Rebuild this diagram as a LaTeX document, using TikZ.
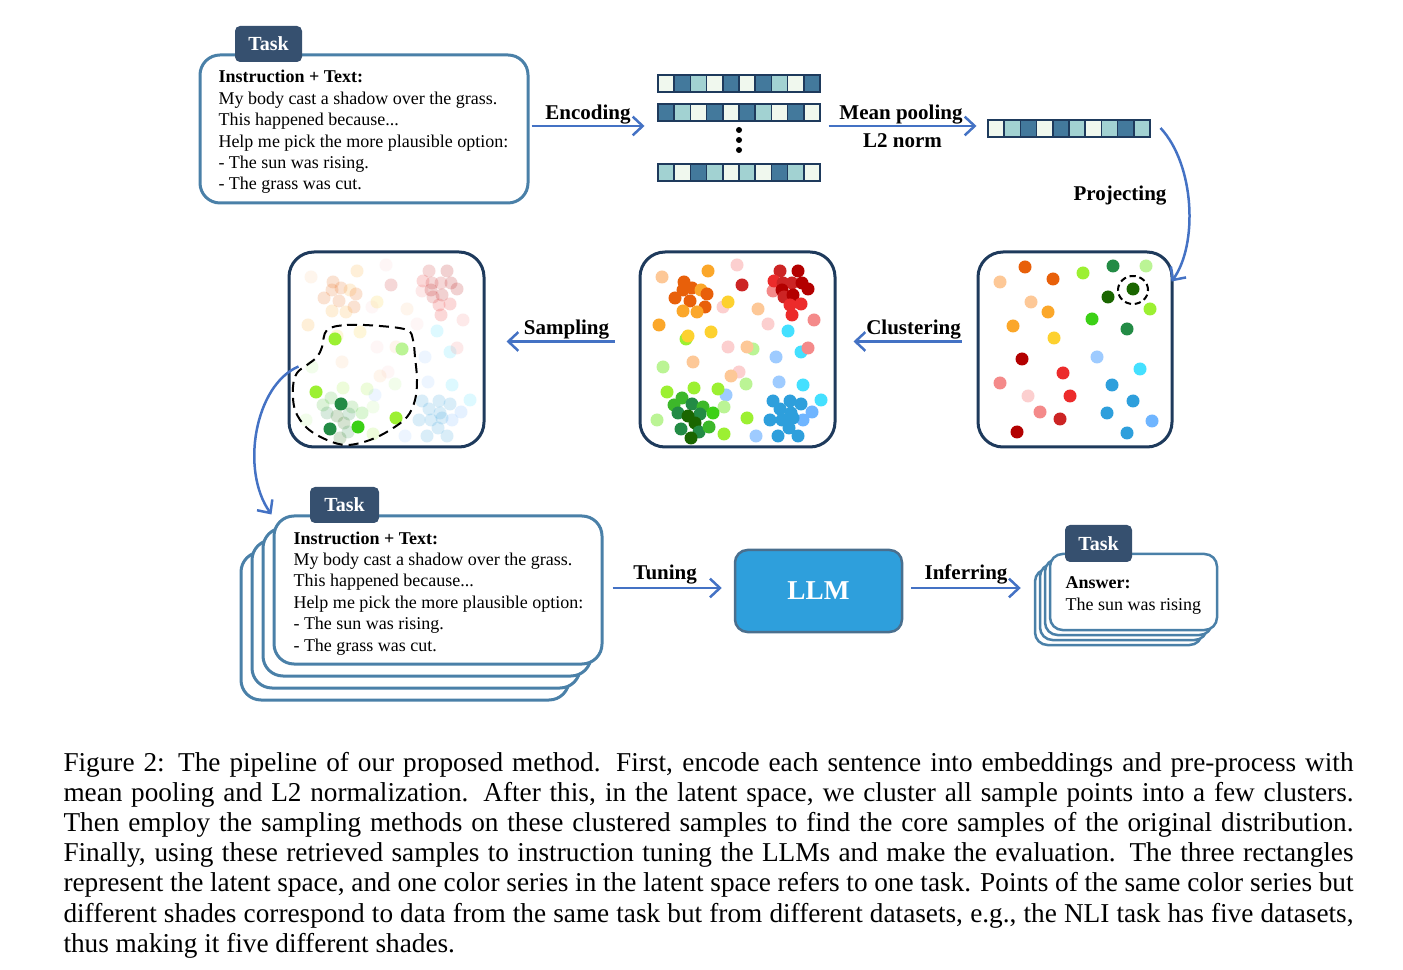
\documentclass[tikz,border=0pt]{standalone}
\usepackage{fontspec}
\setmainfont{Liberation Serif}
\usetikzlibrary{calc,arrows.meta}
% one pixel of the layout
\newdimen\pxu \pxu=0.4pt
\definecolor{taskline}{HTML}{4A80A8}
\definecolor{tabblue}{HTML}{36506F}
\definecolor{latline}{HTML}{1E3A5C}
\definecolor{arrowblue}{HTML}{4472C4}
\definecolor{llmfill}{HTML}{2E9FDC}
\definecolor{llmline}{HTML}{4A6F8E}
\definecolor{embD}{HTML}{43799C}
\definecolor{embT}{HTML}{A2D2D2}
\definecolor{embW}{HTML}{F0F8EE}
% colours of the sample points
\definecolor{dpeach}{HTML}{FDC897}
\definecolor{dorD}{HTML}{E8600A}
\definecolor{dorL}{HTML}{FBA72A}
\definecolor{dyel}{HTML}{FDD12F}
\definecolor{dpinkL}{HTML}{FCCFCF}
\definecolor{dsalm}{HTML}{F48A8A}
\definecolor{dredD}{HTML}{B30000}
\definecolor{dredM}{HTML}{CC2424}
\definecolor{dredB}{HTML}{EC2B2B}
\definecolor{dgrL}{HTML}{BBF495}
\definecolor{dlime}{HTML}{9CF032}
\definecolor{dgrB}{HTML}{3CD016}
\definecolor{dgrM}{HTML}{3DB82A}
\definecolor{dgrC}{HTML}{238B45}
\definecolor{dgrD}{HTML}{1A6600}
\definecolor{dblL}{HTML}{9ECBFF}
\definecolor{dcyan}{HTML}{44E0FF}
\definecolor{dblu}{HTML}{2E9FDC}
\definecolor{dblM}{HTML}{6FB5FF}
\tikzset{
% boxes holding a task, their tabs and the latent spaces
task box/.style={draw=taskline,line width=1.2pt,rounded corners=8pt,fill=white,inner sep=0},
answer box/.style={draw=taskline,line width=1pt,rounded corners=5pt,fill=white,inner sep=0},
task tab/.style={fill=tabblue,rounded corners=2pt,text=white,inner sep=0,
  font=\fontsize{8}{9.6}\selectfont\bfseries},
latent box/.style={draw=latline,line width=1.2pt,rounded corners=10pt,fill=white,inner sep=0},
llm box/.style={draw=llmline,line width=1pt,rounded corners=5pt,fill=llmfill,inner sep=0,
  text=white,font=\fontsize{10.9}{13}\selectfont\bfseries},
box text/.style={inner sep=0,font=\fontsize{7.2}{8.56}\selectfont},
arrow text/.style={inner sep=0,font=\fontsize{8.4}{10}\selectfont\bfseries},
flow/.style={draw=arrowblue,line width=1pt,-{Straight Barb[length=4pt,width=7.5pt]}},
emb cell/.style={draw=latline,line width=0.7pt},
sel line/.style={draw=black,line width=0.8pt,dash pattern=on 4pt off 2.4pt}
}
% one embedding row: x, y, list of cell colours
\newcommand{\embrow}[3]{%
  \foreach \c [count=\i from 0] in {#3}
    \draw[emb cell,fill=\c] ({#1+16.2*\i},#2) rectangle ++(16.2,17);}
% points of the clustered latent space
\newcommand{\latentdots}{%
  \foreach \x/\y/\c in {662/277/dpeach,708/271/dorL,737/265/dpinkL,742/285/dredM,
    723/307/dpinkL,728/302/dyel,758/309/dpeach,659/325/dorL,686/339/dlime,688/336/dyel,
    711/332/dyel,814/320/dsalm,768/324/dpinkL,788/331/dcyan,728/347/dpinkL,753/349/dgrL,
    747/347/dpeach,776/357/dblL,801/352/dcyan,808/348/dsalm,663/367/dgrL,693/362/dpeach,
    739/372/dpinkL,731/376/dpeach,746/384/dgrL,779/382/dblL,803/385/dcyan,667/392/dlime,
    694/388/dlime,726/395/dblL,718/389/dlime,821/400/dcyan,724/407/dgrL,657/420/dgrL,
    747/418/dlime,724/434/dlime,756/436/dblL,
    % orange cluster
    684/282/dorD,675/298/dorD,683/290/dorD,692/288/dorD,690/301/dorD,701/290/dorL,
    707/294/dorD,705/307/dorD,683/311/dorL,697/312/dorL,
    % red cluster
    773/291/dsalm,780/271/dredM,798/271/dredD,774/281/dredB,783/283/dredM,792/283/dredM,
    802/283/dredD,808/289/dredD,782/290/dredD,784/297/dredM,793/295/dredD,790/305/dredB,
    801/304/dredB,792/315/dredB,
    % green cluster
    674/405/dgrM,682/398/dgrM,692/404/dgrC,703/407/dgrM,678/413/dgrC,700/414/dgrC,
    713/413/dgrB,688/416/dgrD,695/423/dgrD,681/429/dgrC,699/432/dgrC,709/427/dgrM,
    691/438/dgrD,
    % blue cluster
    773/401/dblu,790/401/dblu,801/404/dblu,780/409/dblu,791/413/dblu,812/412/dblM,
    770/420/dblu,782/420/dblu,803/420/dblM,793/418/dblu,789/428/dblu,778/436/dblu,
    798/436/dblu}
    \fill[\c] (\x,\y) circle[radius=2.6pt];}

\begin{document}
\begin{tikzpicture}[x=\pxu,y=-\pxu]
      \useasboundingbox (0,0) rectangle (1403,970);
      % Task at the top
      \node(task1)[task box,minimum width=328\pxu,minimum height=148\pxu] at (364,129){};
      \node(tab1)[task tab,minimum width=67\pxu,minimum height=36\pxu] at (268.5,44){Task};
      \node(text1)[box text,anchor=base west] at (218,83){\parbox[t]{300\pxu}{%
          \textbf{Instruction + Text:}\\
          My body cast a shadow over the grass.\\
          This happened because...\\
          Help me pick the more plausible option:\\
          - The sun was rising.\\
          - The grass was cut.}};
      % Embeddings and the pooled vector
      \node(emb)[inner sep=0,minimum width=162\pxu,minimum height=106\pxu] at (739,128){};
      \node(pool)[inner sep=0,minimum width=162\pxu,minimum height=17\pxu] at (1069,128){};
      \embrow{658}{75}{embW,embD,embT,embW,embD,embW,embD,embT,embW,embD}
      \embrow{658}{104}{embD,embT,embW,embD,embW,embD,embT,embW,embD,embW}
      \embrow{658}{164}{embT,embW,embD,embT,embW,embT,embW,embD,embT,embW}
      \embrow{988}{120}{embW,embT,embD,embW,embD,embT,embW,embT,embD,embT}
      \foreach \y in {130,140,150} \fill (739,\y) circle[radius=1.2pt];
      \draw[flow] ($(task1.east)+(2,-3)$) -- ($(emb.west)+(-13,-2)$)
        node(lbl enc)[arrow text,midway,above=0.4pt]{Encoding};
      \draw[flow] ($(emb.east)+(8,-2)$) -- ($(pool.west)+(-11,-2)$)
        node(lbl mean)[arrow text,midway,above=0.4pt,xshift=-0.6pt]{Mean pooling}
        node(lbl norm)[arrow text,midway,below=2.4pt]{L2 norm};
      % The three latent spaces
      \node(latR)[latent box,minimum width=194\pxu,minimum height=195\pxu] at (1075,349.5){};
      \node(latM)[latent box,minimum width=195\pxu,minimum height=195\pxu] at (737.5,349.5){};
      \node(latL)[latent box,minimum width=195\pxu,minimum height=195\pxu] at (386.5,349.5){};
      \draw[flow] ($(pool.east)+(10,0)$) .. controls (1195,165) and (1198,245) ..
        ($(latR.north east)+(-2,31)$);
      \node(lbl proj)[arrow text] at (1120,196){Projecting};
      % projected points
      \foreach \x/\y/\c in {1000/282/dpeach,1025/267/dorD,1053/279/dorD,1083/273/dlime,
          1113/266/dgrC,1146/266/dgrL,1108/297/dgrD,1133/289/dgrD,1150/309/dlime,
          1031/302/dpeach,1048/312/dorL,1013/326/dorL,1092/319/dgrB,1127/329/dgrC,
          1054/338/dyel,1022/359/dredD,1097/357/dblL,1140/369/dcyan,1063/373/dredB,
          1000/383/dsalm,1112/385/dblu,1028/396/dpinkL,1070/396/dredB,1133/401/dblu,
          1040/412/dsalm,1060/419/dredM,1107/413/dblu,1152/421/dblM,1017/432/dredD,
          1127/433/dblu}
        \fill[\c] (\x,\y) circle[radius=2.6pt];
      \draw[sel line,dash pattern=on 2.5pt off 1.5pt] (1133,290) ellipse[x radius=6pt,y radius=5.6pt];
      % clustered points
      \latentdots
      % sampled points
      \begin{scope}[shift={(-351,0)}]
        \begin{scope}[fill opacity=0.18]
          \latentdots
        \end{scope}
        \foreach \x/\y/\c in {686/339/dlime,753/349/dgrL,667/392/dlime,692/404/dgrC,
            681/429/dgrC,709/427/dgrB,747/418/dlime}
          \fill[\c] (\x,\y) circle[radius=2.6pt];
      \end{scope}
      \draw[sel line] plot[smooth cycle,tension=0.6] coordinates {(327,330) (347,325)
        (380,326) (407,330) (413,340) (415,357) (417,380) (415,400) (407,417) (390,430)
        (370,440) (347,445) (327,440) (307,428) (295,410) (293,387) (297,373) (307,365)
        (317,357) (322,347)};
      \draw[flow] ($(latR.west)+(-15,-8)$) -- ($(latM.east)+(17,-8)$)
        node(lbl clu)[arrow text,midway,above=0.4pt,xshift=2.4pt]{Clustering};
      \draw[flow] ($(latM.west)+(-24,-8)$) -- ($(latL.east)+(21,-8)$)
        node(lbl sam)[arrow text,midway,above=0.4pt,xshift=2.4pt]{Sampling};
      % Sampled tasks
      \foreach \k in {3,2,1}
        \node(back\k)[task box,minimum width=328\pxu,minimum height=148\pxu]
          at ({438-11*\k},{590+12*\k}){};
      \node(task2)[task box,minimum width=328\pxu,minimum height=148\pxu] at (438,590){};
      \node(tab2)[task tab,minimum width=69\pxu,minimum height=36\pxu] at (344.5,505){Task};
      \node(text2)[box text,anchor=base west] at (293,544){\parbox[t]{300\pxu}{%
          \textbf{Instruction + Text:}\\
          My body cast a shadow over the grass.\\
          This happened because...\\
          Help me pick the more plausible option:\\
          - The sun was rising.\\
          - The grass was cut.}};
      \draw[flow] ($(latL.west)+(11,17)$) .. controls (255,385) and (240,470) ..
        ($(task2.north west)+(-1,0)$);
      % LLM and the answers
      \node(llm)[llm box,minimum width=167\pxu,minimum height=82\pxu] at (818.5,591){LLM};
      \foreach \k in {3,2,1}
        \node(aback\k)[answer box,minimum width=167\pxu,minimum height=76\pxu]
          at ({1133.5-5*\k},{592+5*\k}){};
      \node(ans)[answer box,minimum width=167\pxu,minimum height=76\pxu] at (1133.5,592){};
      \node(tab3)[task tab,minimum width=67\pxu,minimum height=37\pxu] at (1098.5,543.5){Task};
      \node(text3)[box text,anchor=base west] at (1065,589){\parbox[t]{140\pxu}{%
          \textbf{Answer:}\\
          The sun was rising}};
      \draw[flow] ($(task2.east)+(9,-2)$) -- ($(llm.west)+(-12,-3)$)
        node(lbl tun)[arrow text,midway,above=1.2pt,xshift=-0.8pt]{Tuning};
      \draw[flow] ($(llm.east)+(8,-3)$) -- ($(ans.west)+(-28,-4)$)
        node(lbl inf)[arrow text,midway,above=1pt]{Inferring};
      % Caption
      \node(caption)[inner sep=0,anchor=base west,font=\fontsize{10.9}{12.08}\selectfont]
        at (63,771){\parbox[t]{1290\pxu}{Figure 2: The pipeline of our proposed method.
          First, encode each sentence into embeddings and pre-process with\linebreak
          mean pooling and L2 normalization. After this, in the latent space, we cluster
          all sample points into a few clusters.\linebreak
          Then employ the sampling methods on these clustered samples to find the core
          samples of the original distribution.\linebreak
          Finally, using these retrieved samples to instruction tuning the LLMs and make
          the evaluation. The three rectangles\linebreak
          represent the latent space, and one color series in the latent space refers to
          one task. Points of the same color series but\linebreak
          different shades correspond to data from the same task but from different
          datasets, e.g., the NLI task has five datasets,\linebreak
          thus making it five different shades.}};
    \end{tikzpicture}
\end{document}
